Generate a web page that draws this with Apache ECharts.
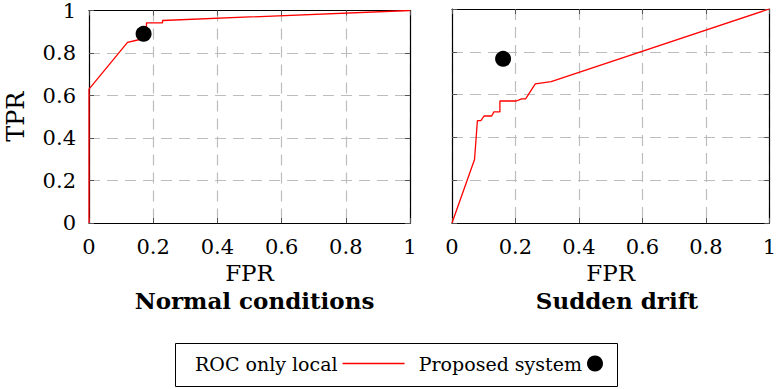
<!DOCTYPE html>
<html><head><meta charset="utf-8">
<script src="https://cdn.jsdelivr.net/npm/echarts@6/dist/echarts.min.js"></script>
<style>html,body{margin:0;padding:0;background:#fff}#c{width:779px;height:389px}</style>
</head><body><div id="c"></div>
<script>
const panelTitles = ['Normal conditions', 'Sudden drift'];
const xTicks = [0, 0.2, 0.4, 0.6, 0.8, 1];
const yTicks = [0, 0.2, 0.4, 0.6, 0.8, 1];
const rocNormal = [[0,0],[0,0.63],[0.12,0.85],[0.148,0.86],[0.179,0.87],[0.179,0.942],[0.229,0.942],[0.229,0.953],[1,1]];
const rocDrift = [[0,0],[0.071,0.297],[0.080,0.478],[0.091,0.478],[0.101,0.5],[0.125,0.5],[0.132,0.519],[0.151,0.519],[0.151,0.570],[0.203,0.570],[0.219,0.580],[0.232,0.580],[0.2625,0.65],[0.3125,0.661],[1,1]];
const proposedNormal = [[0.17,0.89]];
const proposedDrift = [[0.161,0.767]];

const FONT = 'DejaVu Serif';
const chart = echarts.init(document.getElementById('c'), null, {renderer:'svg'});
const grids = [
  {left:89, top:9, width:321, height:214},
  {left:452, top:9, width:320, height:214}
];
const xAxes = [], yAxes = [];
const fmt = v => String(v);
const gridLine = {show:true, lineStyle:{color:'#bdbdbd', type:[11,7], width:1.2}};
const border = {show:true, onZero:false, lineStyle:{color:'#000', width:1.2}};
const tick = {show:true, inside:true, length:5, lineStyle:{color:'#555'}};
grids.forEach((g, i) => {
  xAxes.push({gridIndex:i, type:'value', min:0, max:1, interval:0.2, position:'bottom',
    name:'FPR', nameLocation:'middle', nameGap:34,
    nameTextStyle:{fontFamily:FONT, fontSize:23, color:'#000', lineHeight:23},
    axisLine:border, axisTick:tick,
    axisLabel:{fontFamily:FONT, fontSize:21, color:'#000', margin:13, formatter:fmt},
    splitLine:gridLine});
  xAxes.push({gridIndex:i, type:'value', min:0, max:1, interval:0.2, position:'top',
    axisLine:border, axisTick:tick, axisLabel:{show:false}, splitLine:{show:false}});
  yAxes.push({gridIndex:i, type:'value', min:0, max:1, interval:0.2, position:'left',
    name: i===0 ? 'TPR' : '', nameLocation:'middle', nameGap:61, nameRotate:90,
    nameTextStyle:{fontFamily:FONT, fontSize:24, color:'#000'},
    axisLine:border, axisTick:tick,
    axisLabel:{show: i===0, fontFamily:FONT, fontSize:21, color:'#000', margin:13, formatter:fmt},
    splitLine:gridLine});
  yAxes.push({gridIndex:i, type:'value', min:0, max:1, interval:0.2, position:'right',
    axisLine:border, axisTick:tick, axisLabel:{show:false}, splitLine:{show:false}});
});
const titles = panelTitles.map((t, i) => ({
  text: t, left: grids[i].left + grids[i].width/2, top: 284, textAlign:'center',
  textStyle:{fontFamily:FONT, fontSize:23, fontWeight:'bold', color:'#000', lineHeight:23}
}));
const rocData = [rocNormal, rocDrift];
const propData = [proposedNormal, proposedDrift];
const series = [];
[0,1].forEach(i => {
  series.push({name:'ROC only local', type:'line', xAxisIndex:i*2, yAxisIndex:i*2,
    data: rocData[i], symbol:'none', lineStyle:{color:'#ff0000', width:1.3}, itemStyle:{color:'#ff0000'},
    z:3});
  series.push({name:'Proposed system', type:'scatter', xAxisIndex:i*2, yAxisIndex:i*2,
    data: propData[i], symbol:'circle', symbolSize:16, itemStyle:{color:'#000', opacity:1}, z:4});
});
const legendText = {fontFamily:FONT, fontSize:19, color:'#000'};
chart.setOption({
  animation:false,
  title: titles,
  grid: grids,
  xAxis: xAxes,
  yAxis: yAxes,
  graphic: [{type:'rect', left:173, top:341, shape:{width:442, height:43},
    style:{fill:'none', stroke:'#000', lineWidth:1}}],
  legend: [
    {left:195, top:354, align:'right', padding:0, itemWidth:62, itemHeight:16, textStyle:legendText,
      data:[{name:'ROC only local', icon:'path://M0,0H62V1.5H0Z', itemStyle:{color:'#ff0000'}}]},
    {right:176, top:354, align:'right', padding:0, itemWidth:16, itemHeight:16, textStyle:legendText,
      data:[{name:'Proposed system', icon:'circle', itemStyle:{color:'#000', opacity:1}}]}
  ],
  series: series
});
</script></body></html>
